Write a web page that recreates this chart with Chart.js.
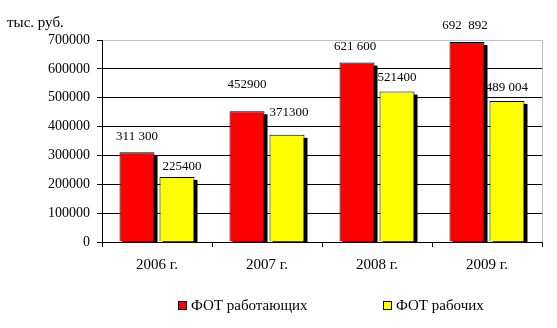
<!DOCTYPE html>
<html>
<head>
<meta charset="utf-8">
<script src="https://cdn.jsdelivr.net/npm/chart.js@4"></script>
<style>
    html, body { margin: 0; padding: 0; background: #fff; }
    #wrap { width: 557px; height: 328px; }
</style>
</head>
<body>
<div id="wrap"><canvas id="chart" width="557" height="328"></canvas></div>
<script>
const years = ['2006 г.', '2007 г.', '2008 г.', '2009 г.']
const fotAll = [311300, 452900, 621600, 692892]
const fotWorkers = [225400, 371300, 521400, 489004]
const fotAllText = ['311 300', '452900', '621 600', '692  892']
const fotWorkersText = ['225400', '371300', '521400', '489 004']
const yTicks = [0, 100000, 200000, 300000, 400000, 500000, 600000, 700000]

// label nudges (dx, dy above bar top)
const labelNudge = [
    [[0, 16], [5, 10]],
    [[0, 27], [2, 22]],
    [[-2, 16], [0, 14]],
    [[-2, 16], [0, 13]],
]

const FONT = '"Liberation Serif", "Times New Roman", serif'

const extras = {
    id: 'extras',
    beforeDatasetsDraw(chart) {
        // black drop shadow behind each bar
        const ctx = chart.ctx
        const bottom = chart.scales.y.getPixelForValue(0)
        ctx.save()
        ctx.fillStyle = '#000'
        chart.data.datasets.forEach((ds, i) => {
            chart.getDatasetMeta(i).data.forEach((bar) => {
                const w = bar.width
                ctx.fillRect(bar.x - w / 2 + 3, bar.y + 3, w, bottom - bar.y - 3)
            })
        })
        ctx.restore()
    },
    afterDraw(chart) {
        const ctx = chart.ctx
        const area = chart.chartArea
        ctx.save()

        // plot area right border
        ctx.strokeStyle = '#c0c0c0'
        ctx.lineWidth = 1
        ctx.beginPath()
        ctx.moveTo(area.right + 0.5, area.top)
        ctx.lineTo(area.right + 0.5, area.bottom)
        ctx.stroke()

        // value labels
        ctx.fillStyle = '#000'
        ctx.font = '13px ' + FONT
        ctx.textAlign = 'center'
        ctx.textBaseline = 'middle'
        const texts = [fotAllText, fotWorkersText]
        chart.data.datasets.forEach((ds, i) => {
            chart.getDatasetMeta(i).data.forEach((bar, j) => {
                const [dx, dy] = labelNudge[j][i]
                ctx.fillText(texts[i][j], bar.x + dx, bar.y - dy)
            })
        })

        // unit caption
        ctx.font = '15px ' + FONT
        ctx.textAlign = 'left'
        ctx.fillText('тыс. руб.', 7, 23)

        // legend
        const items = chart.data.datasets.map((ds) => ({ text: ds.label, color: ds.backgroundColor }))
        const starts = [178, 383]
        items.forEach((it, k) => {
            const x = starts[k]
            ctx.fillStyle = it.color
            ctx.fillRect(x, 301.5, 8, 8)
            ctx.strokeStyle = '#000'
            ctx.strokeRect(x + 0.5, 301.5, 8, 8)
            ctx.fillStyle = '#000'
            ctx.fillText(it.text, x + 13, 306)
        })
        ctx.restore()
    },
}

new Chart(document.getElementById('chart').getContext('2d'), {
    type: 'bar',
    data: {
        labels: years,
        datasets: [
            {
                label: 'ФОТ работающих',
                data: fotAll,
                backgroundColor: '#ff0000',
                borderColor: '#000',
                borderWidth: 1,
                categoryPercentage: 0.727,
                barPercentage: 0.875,
            },
            {
                label: 'ФОТ рабочих',
                data: fotWorkers,
                backgroundColor: '#ffff00',
                borderColor: '#000',
                borderWidth: 1,
                categoryPercentage: 0.727,
                barPercentage: 0.875,
            },
        ],
    },
    options: {
        responsive: false,
        animation: false,
        layout: { padding: { top: 40, right: 15, left: 0, bottom: 0 } },
        plugins: {
            legend: { display: false },
            tooltip: { enabled: false },
        },
        scales: {
            x: {
                offset: true,
                afterFit: (s) => { s.height = 86 },
                grid: {
                    offset: true,
                    drawOnChartArea: false,
                    drawTicks: true,
                    tickLength: 5,
                    color: '#000',
                },
                border: { color: '#000' },
                ticks: {
                    padding: 9,
                    color: '#000',
                    font: { family: FONT, size: 15 },
                },
            },
            y: {
                min: 0,
                max: 700000,
                afterFit: (s) => { s.width = 102 },
                afterBuildTicks: (s) => { s.ticks = yTicks.map((v) => ({ value: v })) },
                grid: {
                    color: (c) => (c.tick && c.tick.value === 700000 ? '#c0c0c0' : '#000'),
                    tickColor: '#000',
                    tickLength: 5,
                },
                border: { color: '#000' },
                ticks: {
                    padding: 7,
                    color: '#000',
                    font: { family: FONT, size: 14 },
                    callback: (v) => String(v),
                },
            },
        },
    },
    plugins: [extras],
})
</script>
</body>
</html>
